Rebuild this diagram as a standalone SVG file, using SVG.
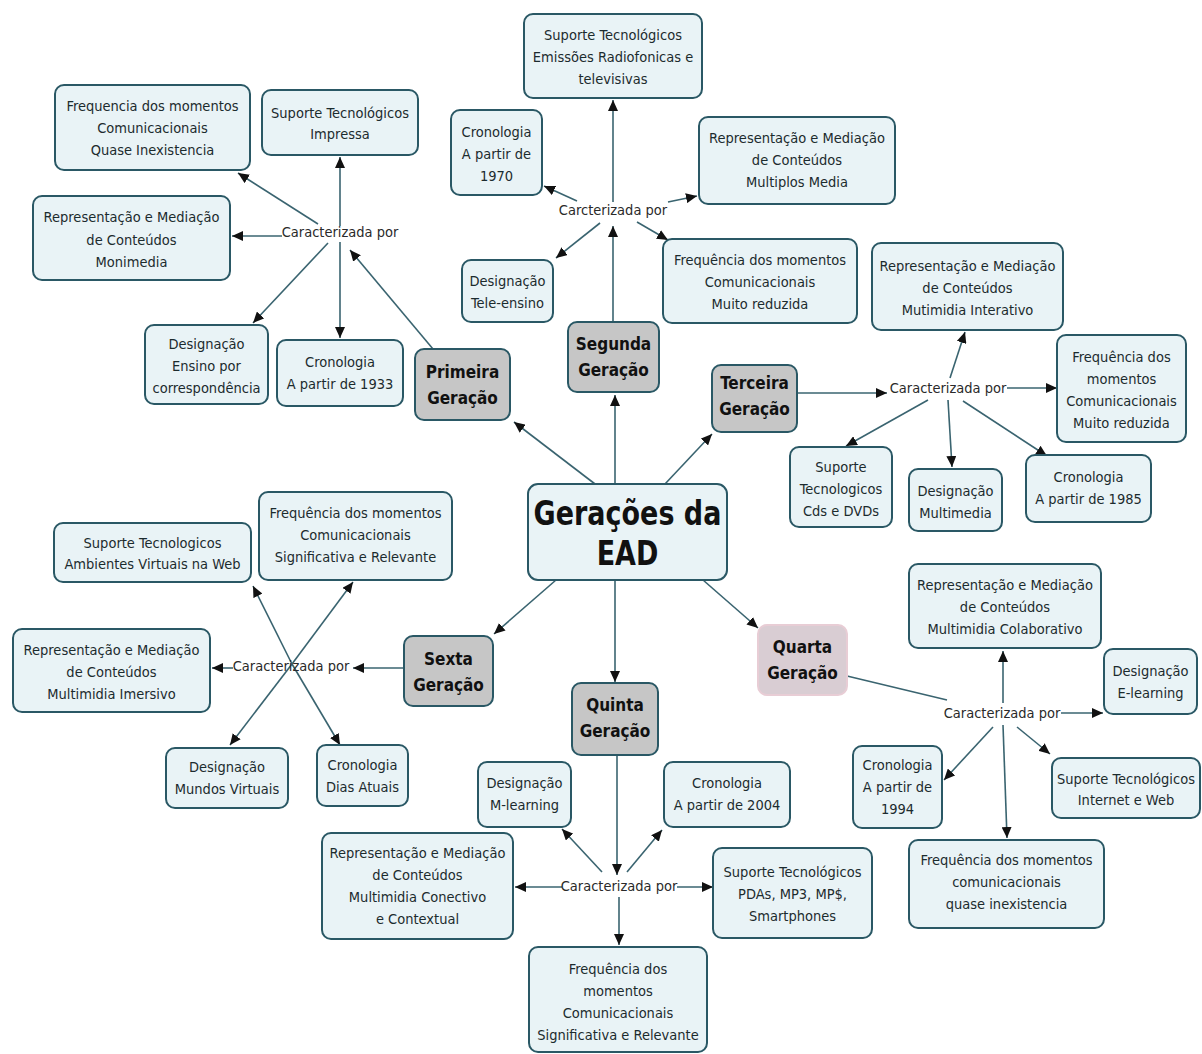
<svg xmlns="http://www.w3.org/2000/svg" width="1202" height="1054" viewBox="0 0 1202 1054">
<style>
.box{fill:#e9f3f6;stroke:#2a5865;stroke-width:2}
.gen{fill:#c6c6c6;stroke:#2a5865;stroke-width:2}
.gen4{fill:#d9cdd3;stroke:#e8cdd5;stroke-width:2}
text{font-family:"DejaVu Sans Condensed","DejaVu Sans",sans-serif;font-stretch:condensed;font-size:14.5px;fill:#1c2b2e;text-anchor:middle}
.b{font-weight:bold;font-size:17px;fill:#111}
.hub{fill:#2a2a2a}
.c line{stroke:#3a6470;stroke-width:1.6;marker-end:url(#ah)}
.c line.na{marker-end:none}
</style>
<defs>
<marker id="ah" markerUnits="userSpaceOnUse" markerWidth="12" markerHeight="10" refX="11" refY="5" orient="auto">
<path d="M0,0 L11,5 L0,10 z" fill="#111"/>
</marker>
</defs>
<rect width="1202" height="1054" fill="#ffffff"/>

<g id="connectors" class="c">
<line x1="595" y1="484" x2="514" y2="422"/>
<line x1="615" y1="484" x2="615" y2="395"/>
<line x1="665" y1="484" x2="712" y2="434"/>
<line x1="556" y1="580" x2="494" y2="634"/>
<line x1="615" y1="580" x2="615" y2="682"/>
<line x1="703" y1="580" x2="758" y2="628"/>

<line x1="433" y1="349" x2="350" y2="250"/>
<line x1="340" y1="226" x2="340" y2="157"/>
<line x1="340" y1="242" x2="340" y2="338"/>
<line x1="282" y1="236" x2="232" y2="236"/>
<line x1="318" y1="224" x2="238" y2="173"/>
<line x1="328" y1="243" x2="253" y2="323"/>

<line x1="613" y1="322" x2="613" y2="226"/>
<line x1="613" y1="202" x2="613" y2="100"/>
<line x1="577" y1="201" x2="544" y2="186"/>
<line x1="668" y1="202" x2="697" y2="196"/>
<line x1="600" y1="223" x2="556" y2="258"/>
<line x1="637" y1="222" x2="668" y2="240"/>

<line x1="797" y1="393" x2="887" y2="393"/>
<line x1="1007" y1="388" x2="1057" y2="388"/>
<line x1="950" y1="378" x2="965" y2="332"/>
<line x1="928" y1="400" x2="846" y2="446"/>
<line x1="948" y1="400" x2="952" y2="467"/>
<line x1="963" y1="401" x2="1047" y2="456"/>

<line x1="404" y1="668" x2="353" y2="668"/>
<line x1="233" y1="668" x2="212" y2="668"/>
<line x1="292" y1="664" x2="253" y2="586"/>
<line x1="292" y1="664" x2="353" y2="582"/>
<line x1="292" y1="664" x2="230" y2="745"/>
<line x1="292" y1="664" x2="340" y2="745"/>

<line x1="617" y1="755" x2="617" y2="875"/>
<line x1="602" y1="872" x2="562" y2="829"/>
<line x1="627" y1="872" x2="662" y2="830"/>
<line x1="562" y1="887" x2="515" y2="887"/>
<line x1="677" y1="887" x2="713" y2="887"/>
<line x1="619" y1="897" x2="619" y2="945"/>

<line class="na" x1="847" y1="676" x2="947" y2="700"/>
<line x1="1003" y1="703" x2="1003" y2="651"/>
<line x1="1061" y1="713" x2="1103" y2="713"/>
<line x1="993" y1="727" x2="944" y2="780"/>
<line x1="1017" y1="727" x2="1050" y2="754"/>
<line x1="1003" y1="725" x2="1007" y2="838"/>
</g>

<g id="hub-labels">
<text class="hub" x="340" y="237">Caracterizada por</text>
<text class="hub" x="613" y="215">Carcterizada por</text>
<text class="hub" x="948" y="393">Caracterizada por</text>
<text class="hub" x="291" y="671">Caracterizada por</text>
<text class="hub" x="619" y="891">Caracterizada por</text>
<text class="hub" x="1002" y="718">Caracterizada por</text>
</g>

<g id="center"><rect class="box" x="528" y="484" width="199" height="96" rx="10"/>
<g transform="translate(627.5,525) scale(1,1.12)"><text class="b" style="font-size:30px" x="0" y="0"><tspan x="0" y="0">Gerações da</tspan><tspan x="0" y="36">EAD</tspan></text></g></g>

<g id="primeira"><rect class="gen" x="415" y="349" width="95" height="71" rx="9"/><text class="b"><tspan x="462.5" y="378">Primeira</tspan><tspan x="462.5" y="404">Geração</tspan></text></g>
<g id="p_freq"><rect class="box" x="55" y="85" width="195" height="85" rx="9"/><text><tspan x="152.5" y="110.5">Frequencia dos momentos</tspan><tspan x="152.5" y="132.5">Comunicacionais</tspan><tspan x="152.5" y="154.5">Quase Inexistencia</tspan></text></g>
<g id="p_sup"><rect class="box" x="262" y="90" width="156" height="65" rx="9"/><text><tspan x="340" y="118">Suporte Tecnológicos</tspan><tspan x="340" y="139">Impressa</tspan></text></g>
<g id="p_rep"><rect class="box" x="33" y="196" width="197" height="84" rx="9"/><text><tspan x="131.5" y="222">Representação e Mediação</tspan><tspan x="131.5" y="244.5">de Conteúdos</tspan><tspan x="131.5" y="267">Monimedia</tspan></text></g>
<g id="p_des"><rect class="box" x="145" y="325" width="123" height="79" rx="9"/><text><tspan x="206.5" y="349">Designação</tspan><tspan x="206.5" y="371">Ensino por</tspan><tspan x="206.5" y="393">correspondência</tspan></text></g>
<g id="p_cro"><rect class="box" x="277" y="340" width="126" height="66" rx="9"/><text><tspan x="340" y="367">Cronologia</tspan><tspan x="340" y="389">A partir de 1933</tspan></text></g>

<g id="segunda"><rect class="gen" x="568" y="322" width="91" height="70" rx="9"/><text class="b"><tspan x="613.5" y="350">Segunda</tspan><tspan x="613.5" y="376">Geração</tspan></text></g>
<g id="s_sup"><rect class="box" x="524" y="14" width="178" height="84" rx="9"/><text><tspan x="613" y="40">Suporte Tecnológicos</tspan><tspan x="613" y="62">Emissões Radiofonicas e</tspan><tspan x="613" y="84">televisivas</tspan></text></g>
<g id="s_cro"><rect class="box" x="451" y="110" width="91" height="85" rx="9"/><text><tspan x="496.5" y="137">Cronologia</tspan><tspan x="496.5" y="159">A partir de</tspan><tspan x="496.5" y="181">1970</tspan></text></g>
<g id="s_rep"><rect class="box" x="699" y="117" width="196" height="87" rx="9"/><text><tspan x="797" y="143">Representação e Mediação</tspan><tspan x="797" y="165">de Conteúdos</tspan><tspan x="797" y="187">Multiplos Media</tspan></text></g>
<g id="s_des"><rect class="box" x="462" y="260" width="91" height="62" rx="9"/><text><tspan x="507.5" y="286">Designação</tspan><tspan x="507.5" y="308">Tele-ensino</tspan></text></g>
<g id="s_freq"><rect class="box" x="663" y="239" width="194" height="84" rx="9"/><text><tspan x="760" y="265">Frequência dos momentos</tspan><tspan x="760" y="287">Comunicacionais</tspan><tspan x="760" y="309">Muito reduzida</tspan></text></g>

<g id="terceira"><rect class="gen" x="712" y="365" width="85" height="67" rx="9"/><text class="b"><tspan x="754.5" y="389">Terceira</tspan><tspan x="754.5" y="415">Geração</tspan></text></g>
<g id="t_rep"><rect class="box" x="872" y="243" width="191" height="87" rx="9"/><text><tspan x="967.5" y="271">Representação e Mediação</tspan><tspan x="967.5" y="293">de Conteúdos</tspan><tspan x="967.5" y="315">Mutimidia Interativo</tspan></text></g>
<g id="t_freq"><rect class="box" x="1057" y="335" width="129" height="107" rx="9"/><text><tspan x="1121.5" y="362">Frequência dos</tspan><tspan x="1121.5" y="384">momentos</tspan><tspan x="1121.5" y="406">Comunicacionais</tspan><tspan x="1121.5" y="428">Muito reduzida</tspan></text></g>
<g id="t_sup"><rect class="box" x="790" y="447" width="102" height="80" rx="9"/><text><tspan x="841" y="472">Suporte</tspan><tspan x="841" y="494">Tecnologicos</tspan><tspan x="841" y="516">Cds e DVDs</tspan></text></g>
<g id="t_des"><rect class="box" x="909" y="469" width="93" height="62" rx="9"/><text><tspan x="955.5" y="496">Designação</tspan><tspan x="955.5" y="518">Multimedia</tspan></text></g>
<g id="t_cro"><rect class="box" x="1026" y="455" width="125" height="67" rx="9"/><text><tspan x="1088.5" y="482">Cronologia</tspan><tspan x="1088.5" y="504">A partir de 1985</tspan></text></g>

<g id="sexta"><rect class="gen" x="404" y="636" width="89" height="70" rx="9"/><text class="b"><tspan x="448.5" y="665">Sexta</tspan><tspan x="448.5" y="691">Geração</tspan></text></g>
<g id="x_sup"><rect class="box" x="54" y="523" width="197" height="59" rx="9"/><text><tspan x="152.5" y="548">Suporte Tecnologicos</tspan><tspan x="152.5" y="569">Ambientes Virtuais na Web</tspan></text></g>
<g id="x_freq"><rect class="box" x="259" y="492" width="193" height="88" rx="9"/><text><tspan x="355.5" y="518">Frequência dos momentos</tspan><tspan x="355.5" y="540">Comunicacionais</tspan><tspan x="355.5" y="562">Significativa e Relevante</tspan></text></g>
<g id="x_rep"><rect class="box" x="13" y="629" width="197" height="83" rx="9"/><text><tspan x="111.5" y="655">Representação e Mediação</tspan><tspan x="111.5" y="677">de Conteúdos</tspan><tspan x="111.5" y="699">Multimidia Imersivo</tspan></text></g>
<g id="x_des"><rect class="box" x="166" y="748" width="122" height="60" rx="9"/><text><tspan x="227" y="772">Designação</tspan><tspan x="227" y="794">Mundos Virtuais</tspan></text></g>
<g id="x_cro"><rect class="box" x="317" y="745" width="91" height="61" rx="9"/><text><tspan x="362.5" y="770">Cronologia</tspan><tspan x="362.5" y="792">Dias Atuais</tspan></text></g>

<g id="quinta"><rect class="gen" x="572" y="683" width="86" height="72" rx="9"/><text class="b"><tspan x="615" y="711">Quinta</tspan><tspan x="615" y="737">Geração</tspan></text></g>
<g id="q_des"><rect class="box" x="478" y="762" width="93" height="65" rx="9"/><text><tspan x="524.5" y="788">Designação</tspan><tspan x="524.5" y="810">M-learning</tspan></text></g>
<g id="q_cro"><rect class="box" x="664" y="762" width="126" height="65" rx="9"/><text><tspan x="727" y="788">Cronologia</tspan><tspan x="727" y="810">A partir de 2004</tspan></text></g>
<g id="q_rep"><rect class="box" x="322" y="833" width="191" height="106" rx="9"/><text><tspan x="417.5" y="858">Representação e Mediação</tspan><tspan x="417.5" y="880">de Conteúdos</tspan><tspan x="417.5" y="902">Multimidia Conectivo</tspan><tspan x="417.5" y="924">e Contextual</tspan></text></g>
<g id="q_sup"><rect class="box" x="713" y="848" width="159" height="90" rx="9"/><text><tspan x="792.5" y="877">Suporte Tecnológicos</tspan><tspan x="792.5" y="899">PDAs, MP3, MP$,</tspan><tspan x="792.5" y="921">Smartphones</tspan></text></g>
<g id="q_freq"><rect class="box" x="529" y="947" width="178" height="105" rx="9"/><text><tspan x="618" y="974">Frequência dos</tspan><tspan x="618" y="996">momentos</tspan><tspan x="618" y="1018">Comunicacionais</tspan><tspan x="618" y="1040">Significativa e Relevante</tspan></text></g>

<g id="quarta"><rect class="gen4" x="758" y="625" width="89" height="70" rx="9"/><text class="b"><tspan x="802.5" y="653">Quarta</tspan><tspan x="802.5" y="679">Geração</tspan></text></g>
<g id="r_rep"><rect class="box" x="909" y="564" width="192" height="84" rx="9"/><text><tspan x="1005" y="590">Representação e Mediação</tspan><tspan x="1005" y="612">de Conteúdos</tspan><tspan x="1005" y="634">Multimidia Colaborativo</tspan></text></g>
<g id="r_des"><rect class="box" x="1104" y="649" width="93" height="65" rx="9"/><text><tspan x="1150.5" y="676">Designação</tspan><tspan x="1150.5" y="698">E-learning</tspan></text></g>
<g id="r_cro"><rect class="box" x="853" y="746" width="89" height="82" rx="9"/><text><tspan x="897.5" y="770">Cronologia</tspan><tspan x="897.5" y="792">A partir de</tspan><tspan x="897.5" y="814">1994</tspan></text></g>
<g id="r_sup"><rect class="box" x="1052" y="758" width="148" height="60" rx="9"/><text><tspan x="1126" y="784">Suporte Tecnológicos</tspan><tspan x="1126" y="805">Internet e Web</tspan></text></g>
<g id="r_freq"><rect class="box" x="909" y="840" width="195" height="88" rx="9"/><text><tspan x="1006.5" y="865">Frequência dos momentos</tspan><tspan x="1006.5" y="887">comunicacionais</tspan><tspan x="1006.5" y="909">quase inexistencia</tspan></text></g>
</svg>
